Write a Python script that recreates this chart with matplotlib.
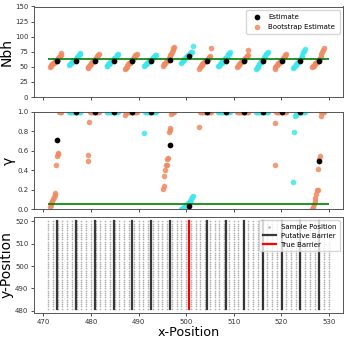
import numpy as np
import matplotlib
matplotlib.use("Agg")
import matplotlib.pyplot as plt

# ---------------- data ----------------
barrier_x = [472.9, 476.9, 480.8, 484.8, 488.7, 492.7, 496.6, 500.5,
             504.3, 508.3, 512.2, 516.2, 520.1, 524.0, 528.0]
true_barrier_x = 500.5
nbh_true = 63
gamma_true = 0.05

nbh_est = [60, 59, 60, 60, 59, 60, 61, 68, 60, 60, 60, 59, 60, 60, 60]
gamma_est = [0.71, 1.0, 1.0, 1.0, 1.0, 1.0, 0.66, 0.03, 1.0, 1.0, 1.0, 1.0, 1.0, 1.0, 0.50]

nbh_boot = [
    [50, 51, 53, 54, 56, 57, 58, 59, 60, 61, 63, 64, 66, 68, 70, 73],
    [53, 54, 56, 57, 58, 59, 60, 61, 62, 63, 65, 66, 68, 70, 71, 73],
    [48, 50, 51, 53, 55, 56, 58, 59, 60, 61, 63, 64, 66, 68, 69, 71],
    [51, 52, 54, 55, 57, 58, 59, 60, 61, 62, 64, 65, 67, 69, 70, 72],
    [46, 48, 50, 52, 54, 56, 57, 59, 60, 61, 63, 65, 67, 69, 70, 72],
    [52, 53, 55, 56, 57, 58, 59, 60, 61, 62, 63, 64, 66, 67, 69, 70],
    [52, 54, 55, 57, 58, 60, 61, 62, 64, 66, 69, 72, 75, 78, 81, 83],
    [56, 58, 60, 61, 63, 64, 66, 67, 68, 69, 70, 71, 73, 74, 75, 84],
    [47, 49, 51, 53, 55, 57, 58, 59, 60, 61, 62, 63, 65, 66, 68, 82],
    [51, 52, 54, 56, 57, 59, 60, 61, 62, 64, 65, 67, 69, 71, 72, 74],
    [50, 52, 53, 55, 56, 58, 59, 60, 61, 62, 63, 65, 66, 68, 70, 78],
    [46, 48, 50, 52, 54, 56, 58, 59, 60, 62, 64, 66, 68, 71, 73, 75],
    [47, 49, 51, 53, 54, 56, 57, 59, 60, 61, 62, 64, 66, 68, 69, 71],
    [48, 50, 52, 53, 55, 57, 58, 59, 60, 62, 64, 67, 70, 74, 77, 80],
    [49, 51, 52, 54, 56, 57, 58, 59, 60, 62, 64, 67, 71, 75, 78, 81],
]

gamma_boot = [
    [0.02, 0.04, 0.06, 0.08, 0.10, 0.12, 0.14, 0.16, 0.45, 0.55, 0.57, 0.58, 1.0, 1.0, 1.0, 1.0],
    [1.0, 1.0, 1.0, 1.0, 1.0, 1.0, 1.0, 1.0, 1.0, 1.0, 1.0, 1.0, 1.0, 1.0, 1.0, 1.0],
    [0.50, 0.56, 0.90, 1.0, 1.0, 1.0, 1.0, 1.0, 1.0, 1.0, 1.0, 1.0, 1.0, 1.0, 1.0, 1.0],
    [1.0, 1.0, 1.0, 1.0, 1.0, 1.0, 1.0, 1.0, 1.0, 1.0, 1.0, 1.0, 1.0, 1.0, 1.0, 1.0],
    [0.97, 1.0, 1.0, 1.0, 1.0, 1.0, 1.0, 1.0, 1.0, 1.0, 1.0, 1.0, 1.0, 1.0, 1.0, 1.0],
    [0.78, 1.0, 1.0, 1.0, 1.0, 1.0, 1.0, 1.0, 1.0, 1.0, 1.0, 1.0, 1.0, 1.0, 1.0, 1.0],
    [0.21, 0.24, 0.34, 0.40, 0.45, 0.45, 0.52, 0.53, 0.79, 0.81, 0.83, 0.98, 1.0, 1.0, 1.0, 1.0],
    [0.00, 0.005, 0.01, 0.015, 0.02, 0.03, 0.035, 0.04, 0.05, 0.06, 0.06, 0.07, 0.08, 0.10, 0.12, 0.13],
    [0.85, 1.0, 1.0, 1.0, 1.0, 1.0, 1.0, 1.0, 1.0, 1.0, 1.0, 1.0, 1.0, 1.0, 1.0, 1.0],
    [1.0, 1.0, 1.0, 1.0, 1.0, 1.0, 1.0, 1.0, 1.0, 1.0, 1.0, 1.0, 1.0, 1.0, 1.0, 1.0],
    [1.0, 1.0, 1.0, 1.0, 1.0, 1.0, 1.0, 1.0, 1.0, 1.0, 1.0, 1.0, 1.0, 1.0, 1.0, 1.0],
    [1.0, 1.0, 1.0, 1.0, 1.0, 1.0, 1.0, 1.0, 1.0, 1.0, 1.0, 1.0, 1.0, 1.0, 1.0, 1.0],
    [0.45, 0.89, 1.0, 1.0, 1.0, 1.0, 1.0, 1.0, 1.0, 1.0, 1.0, 1.0, 1.0, 1.0, 1.0, 1.0],
    [0.28, 0.79, 0.96, 0.97, 1.0, 1.0, 1.0, 1.0, 1.0, 1.0, 1.0, 1.0, 1.0, 1.0, 1.0, 1.0],
    [0.00, 0.02, 0.05, 0.08, 0.11, 0.15, 0.20, 0.20, 0.41, 0.52, 0.55, 0.96, 1.0, 1.0, 1.0, 1.0],
]

sample_x = np.arange(471, 531)
sample_y = np.arange(481, 521)
barrier_y = (481, 520)
true_range = (471, 530)

# ---------------- style ----------------
C_CORAL = "#F08A62"
C_CYAN = "#3CE6EC"
TICK_FS = 5.0
YLAB_FS = 10
XLAB_FS = 9.2

fig = plt.figure(figsize=(3.44, 3.43), dpi=100)
W, H = 344, 343
def ax_rect(x0, y0, x1, y1):
    return [x0 / W, 1 - y1 / H, (x1 - x0) / W, (y1 - y0) / H]

ax1 = fig.add_axes(ax_rect(34, 6.5, 343, 97))
ax2 = fig.add_axes(ax_rect(34, 112, 343, 209), sharex=ax1)
ax3 = fig.add_axes(ax_rect(34, 217, 343, 313), sharex=ax1)

spread = np.linspace(-1.5, 0.9, 16)

for i, bx in enumerate(barrier_x):
    col = C_CORAL if i % 2 == 0 else C_CYAN
    ax1.scatter(bx + spread, nbh_boot[i], s=16, color=col, alpha=0.85,
                linewidths=0, zorder=2,
                label="Bootstrap Estimate" if i == 0 else None)
    ax2.scatter(bx + spread, gamma_boot[i], s=16, color=col, alpha=0.85,
                linewidths=0, zorder=2)
ax1.scatter(barrier_x, nbh_est, s=17, color="black", zorder=4, linewidths=0,
            label="Estimate")
ax2.scatter(barrier_x, gamma_est, s=17, color="black", zorder=4, linewidths=0)

ax1.hlines(nbh_true, true_range[0], true_range[1], color="green", lw=1.2, zorder=3)
ax2.hlines(gamma_true, true_range[0], true_range[1], color="green", lw=1.2, zorder=3)

ax1.set_ylim(0, 150)
ax1.set_yticks([0, 25, 50, 75, 100, 125, 150])
ax2.set_ylim(0, 1.0)
ax2.set_yticks([0.0, 0.2, 0.4, 0.6, 0.8, 1.0])

h, l = ax1.get_legend_handles_labels()
order = [l.index("Estimate"), l.index("Bootstrap Estimate")]
ax1.legend([h[k] for k in order], [l[k] for k in order], loc="upper right",
           fontsize=5, markerscale=1.0, handletextpad=0.6, borderpad=0.6,
           labelspacing=0.5)

# bottom panel
gx, gy = np.meshgrid(sample_x, sample_y)
ax3.plot(gx.ravel(), gy.ravel(), linestyle="none", marker="o", ms=1.2,
         color="#a8a8a8", alpha=0.9, markeredgewidth=0, label="Sample Position")
for j, bx in enumerate(barrier_x):
    if bx == true_barrier_x:
        continue
    ax3.plot([bx, bx], barrier_y, color="#222222", lw=1.6, alpha=0.9,
             label="Putative Barrier" if j == 0 else None)
ax3.plot([true_barrier_x, true_barrier_x], barrier_y, color="red", lw=1.6,
         label="True Barrier")
ax3.set_yticks([480, 490, 500, 510, 520])
ax3.set_xticks([470, 480, 490, 500, 510, 520, 530])
ax3.legend(loc="upper right", fontsize=5, markerscale=1.5, handletextpad=0.6,
           borderpad=0.5, labelspacing=0.4, handlelength=2.0)

ax1.set_ylabel("Nbh", fontsize=YLAB_FS, labelpad=1)
ax2.set_ylabel("γ", fontsize=YLAB_FS, labelpad=1)
ax3.set_ylabel("y-Position", fontsize=YLAB_FS, labelpad=1)
ax3.set_xlabel("x-Position", fontsize=XLAB_FS, labelpad=1)

for ax in (ax1, ax2, ax3):
    ax.tick_params(labelsize=TICK_FS, length=2.5, width=0.6, pad=1.5,
                   colors="#333333")
    for s in ax.spines.values():
        s.set_linewidth(0.7)
        s.set_color("#555555")
for ax in (ax1, ax2):
    plt.setp(ax.get_xticklabels(), visible=False)

fig.savefig("out.png", dpi=100)
